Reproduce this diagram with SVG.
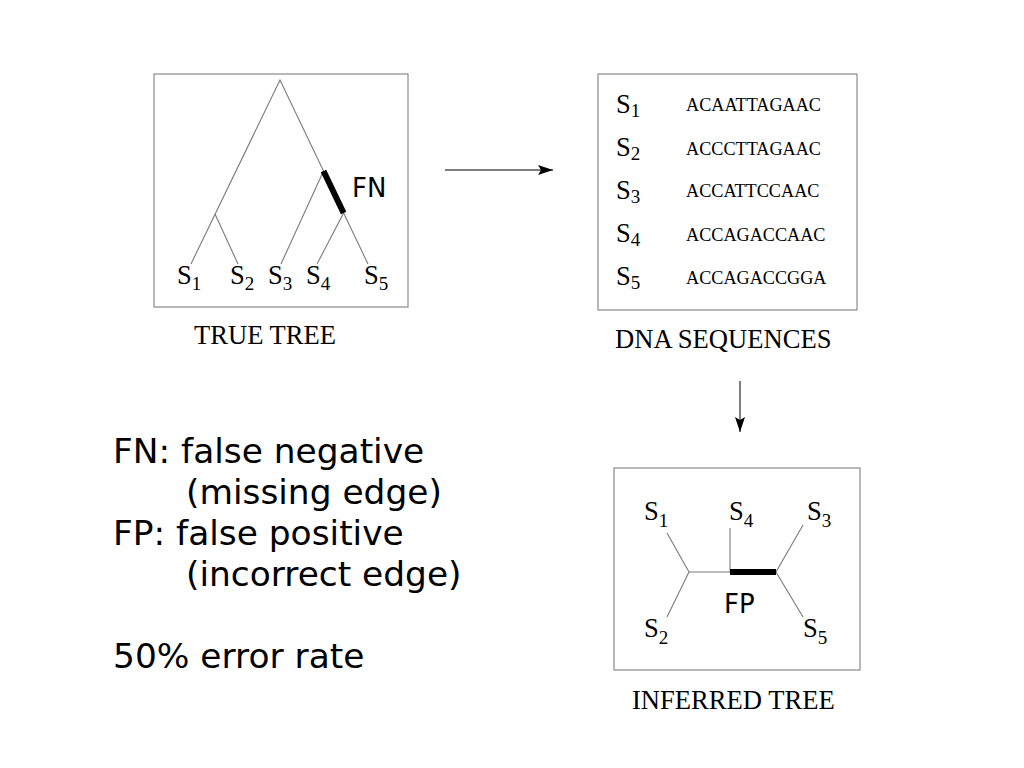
<svg xmlns="http://www.w3.org/2000/svg" width="1024" height="768" viewBox="0 0 1024 768">
<defs>
<style>
.box{fill:none;stroke:#8a8a8a;stroke-width:1.2}
.thin{stroke:#7a7a7a;stroke-width:1.1;fill:none}
.thick{stroke:#000;stroke-width:6;fill:none}
.tm{font-family:"Liberation Serif","Times New Roman",serif;fill:#000}
.lab{font-size:26.5px}
.sub{font-size:19px}
.seq{font-size:18.2px}
.cap{font-size:26.6px}
.sans{font-family:"DejaVu Sans",Verdana,sans-serif;fill:#000}
.arr{stroke:#555;stroke-width:1.5;fill:none}
</style>
<marker id="ah" markerWidth="16" markerHeight="10" refX="15" refY="5" orient="auto" markerUnits="userSpaceOnUse">
<path d="M0,0 L15,5 L0,10 L3,5 Z" fill="#000"/>
</marker>
</defs>
<rect width="1024" height="768" fill="#fff"/>

<g id="true-tree">
<rect class="box" x="154" y="74" width="254" height="233"/>
<polyline class="thin" points="191,264 280,80 368,264"/>
<line class="thin" x1="215" y1="214" x2="238" y2="264"/>
<line class="thin" x1="323.5" y1="171" x2="281" y2="264"/>
<line class="thin" x1="343.6" y1="213" x2="317" y2="264"/>
<line class="thick" x1="323.5" y1="171" x2="343.6" y2="213"/>
<text class="sans" x="352" y="197" font-size="26">FN</text>
<text class="tm lab" x="177" y="284">S<tspan class="sub" dy="6">1</tspan></text>
<text class="tm lab" x="230" y="284">S<tspan class="sub" dy="6">2</tspan></text>
<text class="tm lab" x="268" y="284">S<tspan class="sub" dy="6">3</tspan></text>
<text class="tm lab" x="306" y="284">S<tspan class="sub" dy="6">4</tspan></text>
<text class="tm lab" x="364" y="284">S<tspan class="sub" dy="6">5</tspan></text>
<text class="tm cap" x="194" y="344">TRUE TREE</text>
</g>

<g id="dna-sequences">
<rect class="box" x="598" y="74" width="259" height="236"/>
<text class="tm lab" x="616" y="113">S<tspan class="sub" dy="4">1</tspan></text>
<text class="tm lab" x="616" y="156">S<tspan class="sub" dy="4">2</tspan></text>
<text class="tm lab" x="616" y="199">S<tspan class="sub" dy="4">3</tspan></text>
<text class="tm lab" x="616" y="242">S<tspan class="sub" dy="4">4</tspan></text>
<text class="tm lab" x="616" y="285">S<tspan class="sub" dy="4">5</tspan></text>
<text class="tm seq" x="686" y="111">ACAATTAGAAC</text>
<text class="tm seq" x="686" y="155">ACCCTTAGAAC</text>
<text class="tm seq" x="686" y="197">ACCATTCCAAC</text>
<text class="tm seq" x="686" y="241">ACCAGACCAAC</text>
<text class="tm seq" x="686" y="284">ACCAGACCGGA</text>
<text class="tm cap" x="615" y="348">DNA SEQUENCES</text>
</g>

<g id="inferred-tree">
<rect class="box" x="614" y="468" width="246" height="202"/>
<polyline class="thin" points="667,533 689,572 667,617"/>
<line class="thin" x1="689" y1="572" x2="730" y2="572"/>
<line class="thin" x1="730" y1="528" x2="730" y2="572"/>
<polyline class="thin" points="803,525 776,572 803,617"/>
<line class="thick" x1="730" y1="572" x2="776" y2="572"/>
<text class="sans" x="724" y="613" font-size="26">FP</text>
<text class="tm lab" x="644" y="520">S<tspan class="sub" dy="7">1</tspan></text>
<text class="tm lab" x="729" y="520">S<tspan class="sub" dy="7">4</tspan></text>
<text class="tm lab" x="807" y="520">S<tspan class="sub" dy="7">3</tspan></text>
<text class="tm lab" x="644" y="637">S<tspan class="sub" dy="7">2</tspan></text>
<text class="tm lab" x="803" y="637">S<tspan class="sub" dy="7">5</tspan></text>
<text class="tm cap" x="632" y="709">INFERRED TREE</text>
</g>

<g id="connectors">
<line class="arr" x1="445" y1="170" x2="553" y2="170" marker-end="url(#ah)"/>
<line class="arr" x1="740" y1="381" x2="740" y2="432" marker-end="url(#ah)"/>
</g>

<g id="legend">
<text class="sans" font-size="34.4" x="113" y="463">FN: false negative</text>
<text class="sans" font-size="34.4" x="186" y="504">(missing edge)</text>
<text class="sans" font-size="34.4" x="113" y="545">FP: false positive</text>
<text class="sans" font-size="34.4" x="186" y="586">(incorrect edge)</text>
<text class="sans" font-size="34.4" x="113" y="668">50% error rate</text>
</g>
</svg>
